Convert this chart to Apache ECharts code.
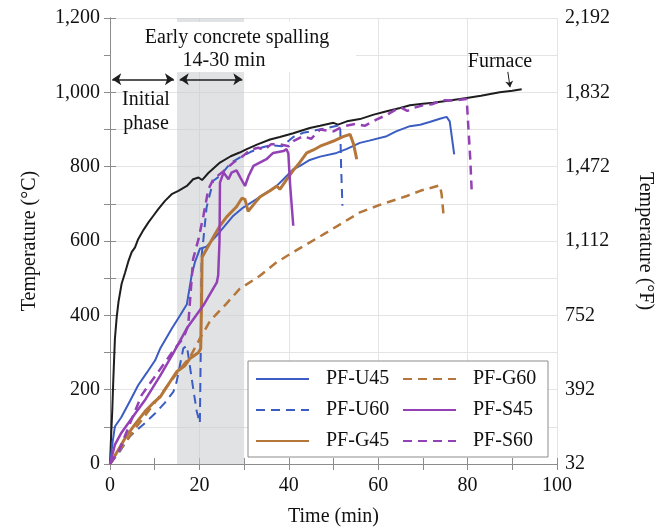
<!DOCTYPE html>
<html><head><meta charset="utf-8">
<script src="https://cdn.jsdelivr.net/npm/echarts@6/dist/echarts.min.js"></script>
<style>html,body{margin:0;padding:0;background:#fff}#c{width:665px;height:532px}</style>
</head><body><div id="c"></div>
<script>
// ---- data (time in min, temperature in °C) ----
const seriesNames = ['PF-U45','PF-U60','PF-G45','PF-G60','PF-S45','PF-S60'];
const leftTickLabels = ['0','200','400','600','800','1,000','1,200'];
const rightTickLabels = ['32','392','752','1,112','1,472','1,832','2,192'];
const furnace = [[0,0],[0.3,90],[0.5,142],[0.75,230],[1.1,337],[1.5,395],[1.9,436],[2.6,485],[3.4,516],[4.1,545],[4.85,570],[5.6,583],[6.3,605],[7.5,630],[8.6,650],[9.7,668],[10.8,686],[12.3,708],[13.8,726],[15.3,735],[17.2,748],[18.6,766],[19.8,771],[20.6,764],[22,783],[24.6,811],[27,828],[29,838],[30.6,847],[33,860],[35.8,873],[38,880],[41,890],[44.7,904],[47,910],[50,918],[51,913],[53,922],[55.9,928],[59,940],[61.9,949],[64.9,958],[67.1,965],[70,969],[72.3,972],[76,978],[79.8,985],[83,991],[87.2,1000],[90,1004],[92.1,1008]];
const pfU45 = [[0,0],[0.6,60],[1.1,101],[2.5,125],[4.5,170],[6.3,212],[8.2,245],[10.1,279],[11.2,310],[13.8,364],[15.7,400],[17.2,430],[18.3,510],[19,543],[20.1,579],[21.6,585],[24.6,625],[27.6,668],[29.8,690],[32.8,713],[35,730],[37,745],[38.8,766],[41,793],[42.5,802],[44.7,818],[47,827],[50.7,837],[53,848],[55.9,864],[58,870],[61.9,882],[64,895],[67.1,909],[69.4,913],[71.5,920],[73.8,929],[75.3,934],[76,922],[77,833]];
const pfU60 = [[0,0],[2,30],[4.5,75],[7.8,110],[10,135],[12.3,165],[14.2,195],[14.9,221],[16.4,311],[17.2,318],[18.6,204],[19.4,142],[20.1,110],[20.3,300],[20.5,561],[20.9,605],[21.6,690],[23.1,762],[24.6,775],[27,810],[29.1,825],[31.5,840],[33.6,850],[36,858],[38.5,855],[41,880],[43.2,891],[46,898],[48.5,904],[51.5,912],[51.7,800],[52,695]];
const pfG45 = [[0,0],[1,20],[3.4,70],[5.5,105],[7.8,141],[10,168],[11.2,180],[13.8,228],[14.9,248],[16.8,265],[17.9,284],[19.8,300],[20.3,311],[20.5,450],[20.6,556],[23.1,610],[24.6,641],[26.1,665],[28.3,692],[29.5,715],[30.2,712],[30.9,680],[32.8,708],[33.6,719],[35.8,735],[37.3,748],[38,739],[39.5,765],[41,790],[42.5,812],[44,837],[45.5,845],[47,855],[48.5,862],[50,869],[52,880],[53.7,887],[54.5,860],[55.2,820]];
const pfG60 = [[0,0],[5,85],[10,165],[15,245],[18,290],[20,335],[22.4,385],[26,431],[29,471],[33.6,507],[37.3,543],[41,570],[48.5,623],[55.9,677],[61,700],[66.4,721],[69.4,735],[73.8,750],[74.2,725],[74.6,672]];
const pfS45 = [[0,0],[1.1,52],[2.6,85],[5,125],[8,175],[11.2,237],[14,295],[17.2,365],[20.9,427],[23.9,489],[24.2,507],[24.5,600],[24.6,757],[25.4,784],[26.5,766],[27.2,784],[28.3,790],[29.2,770],[30.2,748],[31,775],[32.1,802],[35,820],[36.5,837],[38.8,842],[39.5,847],[39.9,835],[40.3,750],[41,641]];
const pfS60 = [[0,0],[2,35],[4.5,110],[7.1,186],[10.8,248],[14.5,311],[16.4,338],[17.5,373],[18.6,552],[19.8,605],[20.9,668],[22,739],[23.1,766],[25.4,788],[27.6,811],[29.8,829],[31.3,845],[33.2,851],[34.5,845],[36,860],[38,860],[40,855],[41,869],[43.2,882],[45,875],[47,900],[50,895],[52.2,909],[55,915],[57,910],[59.7,927],[62,940],[64.9,960],[66.5,950],[67.9,958],[70,965],[72,968],[74.6,979],[77,978],[79.8,982],[80.2,900],[80.6,820],[80.9,739]];
const spallZone = [15, 30];

const BLUE = '#3b5cc2', BROWN = '#b5763a', PURPLE = '#9441b6', BLACK = '#1e1e1e';
const AX = '#8c8c8c', GRID = '#e4e4e4';
const FONT = 'Liberation Serif';

const chart = echarts.init(document.getElementById('c'));
const lineS = (name, data, color, width, dashed) => ({
  name, type: 'line', data, symbol: 'none', smooth: false,
  lineStyle: {color, width, type: dashed ? [9, 6] : 'solid'},
  itemStyle: {color}, z: 3
});
const legendBase = {
  orient: 'vertical', top: 369, itemWidth: 53, itemHeight: 14, itemGap: 11,
  itemStyle: {opacity: 0, borderWidth: 0},
  textStyle: {fontFamily: FONT, fontSize: 20, color: '#111', padding: [0, 0, 0, 12]},
  padding: 0, z: 6
};
chart.setOption({
  animation: false,
  textStyle: {fontFamily: FONT},
  grid: {left: 110, right: 108, top: 18, bottom: 66},
  xAxis: [{
    type: 'value', min: 0, max: 100, interval: 20, position: 'bottom',
    name: 'Time (min)', nameLocation: 'middle', nameGap: 43,
    nameTextStyle: {fontFamily: FONT, fontSize: 20, color: '#111'},
    axisLine: {show: true, lineStyle: {color: AX}},
    axisTick: {show: true, inside: true, length: 6, lineStyle: {color: AX}},
    minorTick: {show: true, splitNumber: 2, length: 6, lineStyle: {color: AX}},
    axisLabel: {fontFamily: FONT, fontSize: 20, color: '#111', margin: 12},
    splitLine: {show: true, lineStyle: {color: GRID}}
  }, {
    type: 'value', min: 0, max: 100, interval: 10, position: 'top',
    axisLine: {show: true, lineStyle: {color: AX}},
    axisTick: {show: true, inside: true, length: 6, lineStyle: {color: AX}},
    axisLabel: {show: false}, splitLine: {show: false}
  }],
  yAxis: [{
    type: 'value', min: 0, max: 1200, interval: 200, position: 'left',
    name: 'Temperature (°C)', nameLocation: 'middle', nameGap: 70,
    nameTextStyle: {fontFamily: FONT, fontSize: 20, color: '#111'},
    axisLine: {show: true, lineStyle: {color: AX}},
    axisTick: {show: true, inside: true, length: 6, lineStyle: {color: AX}},
    minorTick: {show: true, splitNumber: 2, length: 6, lineStyle: {color: AX}},
    axisLabel: {fontFamily: FONT, fontSize: 20, color: '#111', margin: 10,
      formatter: v => leftTickLabels[Math.round(v / 200)]},
    splitLine: {show: true, lineStyle: {color: GRID}},
    minorSplitLine: {show: true, lineStyle: {color: GRID}}
  }, {
    type: 'value', min: 0, max: 1200, interval: 200, position: 'right',
    name: 'Temperature (°F)', nameLocation: 'middle', nameGap: 78, nameRotate: -90,
    nameTextStyle: {fontFamily: FONT, fontSize: 20, color: '#111'},
    axisLine: {show: true, lineStyle: {color: AX}},
    axisTick: {show: true, inside: true, length: 6, lineStyle: {color: AX}},
    minorTick: {show: true, splitNumber: 2, length: 6, lineStyle: {color: AX}},
    axisLabel: {fontFamily: FONT, fontSize: 20, color: '#111', margin: 8,
      formatter: v => rightTickLabels[Math.round(v / 200)]},
    splitLine: {show: false}
  }],
  legend: [
    Object.assign({}, legendBase, {left: 255, data: seriesNames.slice(0, 3)}),
    Object.assign({}, legendBase, {left: 402, data: seriesNames.slice(3)})
  ],
  graphic: [
    {type: 'rect', shape: {x: 248, y: 361, width: 300, height: 96},
     style: {fill: '#fff', stroke: '#8c8c8c', lineWidth: 1}, z: 5},
    {type: 'rect', shape: {x: 111, y: 22, width: 245, height: 50},
     style: {fill: '#fff'}, z: 5},
    {type: 'text', x: 237, y: 38, z: 6, style: {text: 'Early concrete spalling', font: '20px "Liberation Serif"', fill: '#111', textAlign: 'center', textVerticalAlign: 'middle'}},
    {type: 'text', x: 224, y: 61, z: 6, style: {text: '14-30 min', font: '20px "Liberation Serif"', fill: '#111', textAlign: 'center', textVerticalAlign: 'middle'}},
    {type: 'text', x: 146, y: 100, z: 6, style: {text: 'Initial', font: '20px "Liberation Serif"', fill: '#111', textAlign: 'center', textVerticalAlign: 'middle'}},
    {type: 'text', x: 146, y: 124, z: 6, style: {text: 'phase', font: '20px "Liberation Serif"', fill: '#111', textAlign: 'center', textVerticalAlign: 'middle'}},
    {type: 'text', x: 500, y: 62, z: 6, style: {text: 'Furnace', font: '20px "Liberation Serif"', fill: '#111', textAlign: 'center', textVerticalAlign: 'middle'}}
  ],
  series: [
    Object.assign(lineS('Furnace', furnace, BLACK, 2, false), {
      markArea: {silent: true, itemStyle: {color: 'rgba(200,202,206,0.55)'},
        data: [[{xAxis: spallZone[0]}, {xAxis: spallZone[1]}]]},
      markLine: {silent: true, symbol: ['arrow', 'arrow'], symbolSize: [9, 9], label: {show: false},
        lineStyle: {color: BLACK, width: 1.5, type: 'solid'},
        data: [
          [{coord: [0.5, 1035]}, {coord: [14.3, 1035]}],
          [{coord: [15.6, 1035]}, {coord: [29.6, 1035]}],
          [{coord: [89.0, 1055], symbol: 'none', lineStyle: {width: 1}}, {coord: [89.5, 1014], symbol: 'arrow', symbolSize: 6}]
        ]}
    }),
    lineS('PF-U45', pfU45, BLUE, 2, false),
    lineS('PF-U60', pfU60, BLUE, 2, true),
    lineS('PF-G45', pfG45, BROWN, 3, false),
    lineS('PF-G60', pfG60, BROWN, 2.5, true),
    lineS('PF-S45', pfS45, PURPLE, 2.5, false),
    lineS('PF-S60', pfS60, PURPLE, 2.5, true)
  ]
});
</script></body></html>
